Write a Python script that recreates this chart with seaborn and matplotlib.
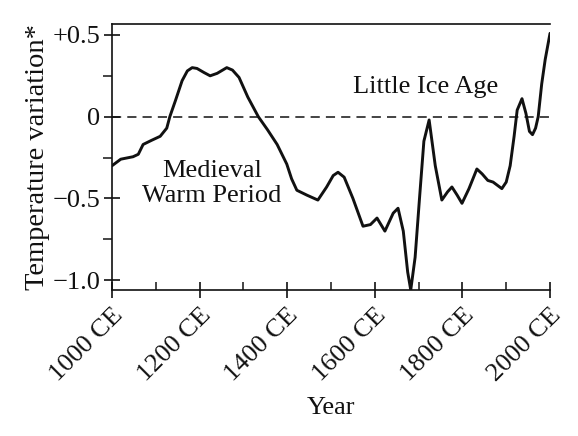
import numpy as np
import pandas as pd
import matplotlib
matplotlib.use("Agg")
import matplotlib.pyplot as plt
import seaborn as sns
from matplotlib.ticker import MultipleLocator, FixedLocator

# Temperature variation over the last millennium
years = [1000, 1020, 1048, 1060, 1071, 1090, 1110, 1125, 1132, 1145, 1160, 1172,
         1183, 1194, 1210, 1224, 1240, 1262, 1275, 1290, 1310, 1334, 1355, 1377,
         1399, 1410, 1422, 1445, 1470, 1490, 1505, 1516, 1530, 1550, 1573, 1590,
         1605, 1623, 1642, 1653, 1665, 1675, 1682, 1692, 1702, 1712, 1724, 1738,
         1753, 1766, 1776, 1788, 1799, 1815, 1833, 1845, 1858, 1870, 1880, 1890,
         1900, 1909, 1918, 1925, 1936, 1945, 1953, 1960, 1967, 1973, 1981, 1989, 2000]
temps = [-0.30, -0.26, -0.245, -0.23, -0.17, -0.145, -0.12, -0.07, 0.0, 0.10, 0.22, 0.28,
         0.30, 0.295, 0.27, 0.25, 0.265, 0.30, 0.285, 0.24, 0.12, 0.0, -0.08, -0.17,
         -0.29, -0.38, -0.45, -0.48, -0.51, -0.43, -0.36, -0.34, -0.37, -0.50, -0.67, -0.66,
         -0.62, -0.70, -0.59, -0.56, -0.70, -0.95, -1.06, -0.86, -0.50, -0.15, -0.02, -0.30,
         -0.51, -0.46, -0.43, -0.48, -0.53, -0.44, -0.32, -0.35, -0.39, -0.40, -0.42, -0.44,
         -0.40, -0.30, -0.12, 0.04, 0.11, 0.02, -0.09, -0.11, -0.07, 0.0, 0.20, 0.35, 0.51]

x_ticks = [1000, 1200, 1400, 1600, 1800, 2000]
x_labels = ["1000 CE", "1200 CE", "1400 CE", "1600 CE", "1800 CE", "2000 CE"]
y_ticks = [0.5, 0, -0.5, -1.0]
y_labels = ["+0.5", "0", "\u22120.5", "\u22121.0"]

df = pd.DataFrame({"Year": years, "Temp": temps})

sns.set_style("ticks")
plt.rcParams["font.family"] = ["Liberation Serif", "DejaVu Serif"]

fig = plt.figure(figsize=(5.78, 4.36), dpi=100)
ax = fig.add_axes([0.1938, 0.3349, 0.7578, 0.6101])

ax.axhline(0, color="#111111", lw=1.1, ls=(0, (6, 4)), zorder=1)
sns.lineplot(data=df, x="Year", y="Temp", ax=ax, color="#111111", lw=2.1, zorder=2,
             solid_joinstyle="round")

ax.set_xlim(1000, 2000)
ax.set_ylim(-1.06, 0.567)

ax.xaxis.set_major_locator(FixedLocator(x_ticks))
ax.set_xticklabels(x_labels, rotation=45, ha="right", rotation_mode="anchor")
ax.xaxis.set_minor_locator(MultipleLocator(100))
ax.yaxis.set_major_locator(FixedLocator(y_ticks))
ax.set_yticklabels(y_labels)
ax.yaxis.set_minor_locator(FixedLocator([0.25, -0.25, -0.75]))

ax.tick_params(axis="x", which="major", direction="inout", length=11, width=1.2,
               labelsize=19, pad=5, colors="#111111")
ax.tick_params(axis="x", which="minor", direction="in", length=5.5, width=1.2)
ax.tick_params(axis="y", which="major", direction="inout", length=11, width=1.2,
               labelsize=19, pad=3, colors="#111111")
ax.tick_params(axis="y", which="minor", direction="out", length=6.5, width=1.2)

for side in ["left", "bottom", "top"]:
    ax.spines[side].set_linewidth(1.2)
    ax.spines[side].set_color("#111111")
ax.spines["right"].set_visible(False)

ax.set_xlabel("Year", fontsize=19, labelpad=8, color="#111111")
ax.set_ylabel("Temperature variation*", fontsize=20.5, labelpad=2, color="#111111")

ax.text(1228, -0.41, "Medieval\nWarm Period", ha="center", va="center",
        fontsize=19, linespacing=1.2, color="#111111")
ax.text(1715, 0.18, "Little Ice Age", ha="center", va="center",
        fontsize=19, color="#111111")

fig.savefig("out.png", dpi=100)
